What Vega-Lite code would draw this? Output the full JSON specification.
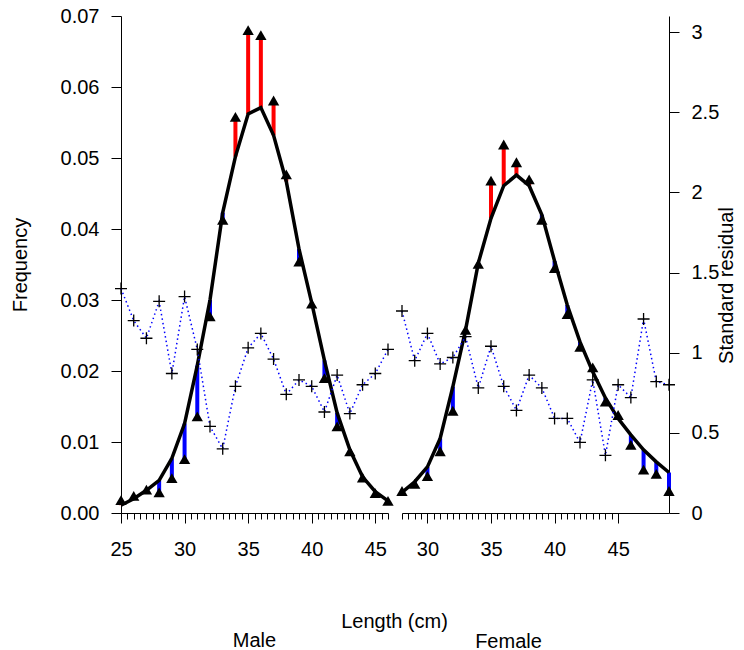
{
  "$schema": "https://vega.github.io/schema/vega-lite/v6.json",
  "padding": {"left": 10, "top": 6, "right": 0, "bottom": 0},
  "background": "white",
  "spacing": 14,
  "bounds": "flush",
  "config": {
    "view": {"stroke": null},
    "font": "Liberation Sans",
    "axis": {
      "domainColor": "black", "tickColor": "black", "labelColor": "black", "titleColor": "black",
      "labelFont": "Liberation Sans", "titleFont": "Liberation Sans",
      "labelFontSize": 20, "titleFontSize": 20, "titleFontWeight": "normal",
      "grid": false, "labelFlush": false, "labelOverlap": false, "domainWidth": 1, "tickWidth": 1
    },
    "title": {"font": "Liberation Sans", "fontSize": 20, "fontWeight": "normal", "color": "black"}
  },
  "datasets": {
    "fish": [
      {"sex": "Male", "length": 25, "obs": 0.0018, "fit": 0.0011, "resid": 1.40},
      {"sex": "Male", "length": 26, "obs": 0.0024, "fit": 0.0020, "resid": 1.20},
      {"sex": "Male", "length": 27, "obs": 0.0033, "fit": 0.0032, "resid": 1.09},
      {"sex": "Male", "length": 28, "obs": 0.0029, "fit": 0.0046, "resid": 1.32},
      {"sex": "Male", "length": 29, "obs": 0.0049, "fit": 0.0077, "resid": 0.87},
      {"sex": "Male", "length": 30, "obs": 0.0076, "fit": 0.0126, "resid": 1.35},
      {"sex": "Male", "length": 31, "obs": 0.0136, "fit": 0.0208, "resid": 1.02},
      {"sex": "Male", "length": 32, "obs": 0.0277, "fit": 0.0300, "resid": 0.54},
      {"sex": "Male", "length": 33, "obs": 0.0413, "fit": 0.0423, "resid": 0.40},
      {"sex": "Male", "length": 34, "obs": 0.0558, "fit": 0.0502, "resid": 0.79},
      {"sex": "Male", "length": 35, "obs": 0.0680, "fit": 0.0562, "resid": 1.03},
      {"sex": "Male", "length": 36, "obs": 0.0673, "fit": 0.0571, "resid": 1.12},
      {"sex": "Male", "length": 37, "obs": 0.0581, "fit": 0.0532, "resid": 0.96},
      {"sex": "Male", "length": 38, "obs": 0.0477, "fit": 0.0467, "resid": 0.74},
      {"sex": "Male", "length": 39, "obs": 0.0354, "fit": 0.0372, "resid": 0.83},
      {"sex": "Male", "length": 40, "obs": 0.0295, "fit": 0.0296, "resid": 0.79},
      {"sex": "Male", "length": 41, "obs": 0.0190, "fit": 0.0215, "resid": 0.63},
      {"sex": "Male", "length": 42, "obs": 0.0122, "fit": 0.0141, "resid": 0.86},
      {"sex": "Male", "length": 43, "obs": 0.0087, "fit": 0.0089, "resid": 0.62},
      {"sex": "Male", "length": 44, "obs": 0.0050, "fit": 0.0051, "resid": 0.80},
      {"sex": "Male", "length": 45, "obs": 0.0028, "fit": 0.0030, "resid": 0.87},
      {"sex": "Male", "length": 46, "obs": 0.0017, "fit": 0.0017, "resid": 1.02},
      {"sex": "Female", "length": 28, "obs": 0.0031, "fit": 0.0029, "resid": 1.26},
      {"sex": "Female", "length": 29, "obs": 0.0041, "fit": 0.0044, "resid": 0.95},
      {"sex": "Female", "length": 30, "obs": 0.0052, "fit": 0.0065, "resid": 1.12},
      {"sex": "Female", "length": 31, "obs": 0.0087, "fit": 0.0105, "resid": 0.93},
      {"sex": "Female", "length": 32, "obs": 0.0144, "fit": 0.0178, "resid": 0.97},
      {"sex": "Female", "length": 33, "obs": 0.0258, "fit": 0.0258, "resid": 1.10},
      {"sex": "Female", "length": 34, "obs": 0.0351, "fit": 0.0352, "resid": 0.78},
      {"sex": "Female", "length": 35, "obs": 0.0468, "fit": 0.0415, "resid": 1.04},
      {"sex": "Female", "length": 36, "obs": 0.0519, "fit": 0.0461, "resid": 0.79},
      {"sex": "Female", "length": 37, "obs": 0.0494, "fit": 0.0476, "resid": 0.64},
      {"sex": "Female", "length": 38, "obs": 0.0470, "fit": 0.0461, "resid": 0.86},
      {"sex": "Female", "length": 39, "obs": 0.0413, "fit": 0.0420, "resid": 0.78},
      {"sex": "Female", "length": 40, "obs": 0.0345, "fit": 0.0355, "resid": 0.59},
      {"sex": "Female", "length": 41, "obs": 0.0280, "fit": 0.0293, "resid": 0.59},
      {"sex": "Female", "length": 42, "obs": 0.0234, "fit": 0.0241, "resid": 0.44},
      {"sex": "Female", "length": 43, "obs": 0.0205, "fit": 0.0199, "resid": 0.83},
      {"sex": "Female", "length": 44, "obs": 0.0157, "fit": 0.0162, "resid": 0.36},
      {"sex": "Female", "length": 45, "obs": 0.0138, "fit": 0.0133, "resid": 0.80},
      {"sex": "Female", "length": 46, "obs": 0.0096, "fit": 0.0110, "resid": 0.72},
      {"sex": "Female", "length": 47, "obs": 0.0061, "fit": 0.0089, "resid": 1.21},
      {"sex": "Female", "length": 48, "obs": 0.0055, "fit": 0.0072, "resid": 0.82},
      {"sex": "Female", "length": 49, "obs": 0.0031, "fit": 0.0057, "resid": 0.80}
    ]
  },
  "hconcat": [
    {
      "width": 267,
      "height": 497,
      "data": {"name": "fish"},
      "transform": [{"filter": "datum.sex === 'Male'"}],
      "title": {"text": "Male", "orient": "bottom", "frame": "group", "anchor": "middle", "offset": 0},
      "layer": [
        {
          "encoding": {
            "x": {
              "field": "length", "type": "quantitative",
              "scale": {"domain": [25, 46], "nice": false, "zero": false},
              "axis": {"orient": "bottom",
                "values": [25,25.5,26,26.5,27,27.5,28,28.5,29,29.5,30,30.5,31,31.5,32,32.5,33,33.5,34,34.5,35,35.5,36,36.5,37,37.5,38,38.5,39,39.5,40,40.5,41,41.5,42,42.5,43,43.5,44,44.5,45,45.5,46],
                "labelExpr": "datum.value % 5 === 0 ? format(datum.value, 'd') : ''",
                "tickSize": 6, "labelPadding": 20,
                "title": "Length (cm)", "titleX": 273, "titleY": 98}
            }
          },
          "layer": [
            {
              "mark": {"type": "rule", "strokeWidth": 4},
              "encoding": {
                "y": {"field": "fit", "type": "quantitative", "title": "Frequency", "scale": {"domain": [0, 0.07], "nice": false},
                  "axis": {"values": [0,0.01,0.02,0.03,0.04,0.05,0.06,0.07], "format": ".2f", "tickSize": 10, "labelPadding": 12, "titlePadding": 30}},
                "y2": {"field": "obs"},
                "color": {"condition": {"test": "datum.obs > datum.fit", "value": "#FF0000"}, "value": "#0000FF"}
              }
            },
            {
              "mark": {"type": "line", "color": "black", "strokeWidth": 3.5},
              "encoding": {"y": {"field": "fit", "type": "quantitative", "title": "Frequency"}}
            },
            {
              "mark": {"type": "point", "shape": "triangle-up", "size": 128, "filled": true, "color": "black", "opacity": 1},
              "encoding": {"y": {"field": "obs", "type": "quantitative", "title": "Frequency"}}
            }
          ]
        },
        {
          "encoding": {
            "x": {
              "field": "length", "type": "quantitative",
              "scale": {"domain": [25, 46], "nice": false, "zero": false},
              "axis": {"orient": "bottom", "values": [25, 30, 35, 40, 45], "tickSize": 10, "labels": false, "domain": false, "title": null}
            }
          },
          "layer": [
            {
              "mark": {"type": "line", "color": "#0000FF", "strokeWidth": 1.5, "strokeDash": [1.5, 3]},
              "encoding": {"y": {"field": "resid", "type": "quantitative", "scale": {"domain": [0, 3.1], "nice": false}, "axis": null}}
            },
            {
              "mark": {"type": "point", "shape": "M-1,0H1M0,-1V1", "size": 144, "filled": false, "color": "black", "strokeWidth": 1.3, "opacity": 1},
              "encoding": {"y": {"field": "resid", "type": "quantitative", "axis": null}}
            }
          ]
        }
      ],
      "resolve": {"scale": {"y": "independent"}, "axis": {"x": "independent", "y": "independent"}}
    },
    {
      "width": 267,
      "height": 497,
      "data": {"name": "fish"},
      "transform": [{"filter": "datum.sex === 'Female'"}],
      "layer": [
        {
          "encoding": {
            "x": {
              "field": "length", "type": "quantitative",
              "scale": {"domain": [28, 49], "nice": false, "zero": false},
              "axis": {"orient": "bottom",
                "values": [28,28.5,29,29.5,30,30.5,31,31.5,32,32.5,33,33.5,34,34.5,35,35.5,36,36.5,37,37.5,38,38.5,39,39.5,40,40.5,41,41.5,42,42.5,43,43.5,44,44.5,45],
                "labelExpr": "datum.value % 5 === 0 ? format(datum.value, 'd') : ''",
                "tickSize": 6, "labelPadding": 20,
                "title": "Female", "titleX": 106, "titleY": 118}
            }
          },
          "layer": [
            {
              "mark": {"type": "rule", "strokeWidth": 4},
              "encoding": {
                "y": {"field": "fit", "type": "quantitative", "scale": {"domain": [0, 0.07], "nice": false}, "axis": null},
                "y2": {"field": "obs"},
                "color": {"condition": {"test": "datum.obs > datum.fit", "value": "#FF0000"}, "value": "#0000FF"}
              }
            },
            {
              "mark": {"type": "line", "color": "black", "strokeWidth": 3.5},
              "encoding": {"y": {"field": "fit", "type": "quantitative", "axis": null}}
            },
            {
              "mark": {"type": "point", "shape": "triangle-up", "size": 128, "filled": true, "color": "black", "opacity": 1},
              "encoding": {"y": {"field": "obs", "type": "quantitative", "axis": null}}
            }
          ]
        },
        {
          "encoding": {
            "x": {
              "field": "length", "type": "quantitative",
              "scale": {"domain": [28, 49], "nice": false, "zero": false},
              "axis": {"orient": "bottom", "values": [30, 35, 40, 45], "tickSize": 10, "labels": false, "domain": false, "title": null}
            }
          },
          "layer": [
            {
              "mark": {"type": "line", "color": "#0000FF", "strokeWidth": 1.5, "strokeDash": [1.5, 3]},
              "encoding": {"y": {"field": "resid", "type": "quantitative", "title": "Standard residual", "scale": {"domain": [0, 3.1], "nice": false},
                "axis": {"orient": "right", "values": [0,0.5,1,1.5,2,2.5,3], "format": "~g", "tickSize": 10, "labelPadding": 12, "titleAngle": -90, "titlePadding": 18, "titleY": 269}}}
            },
            {
              "mark": {"type": "point", "shape": "M-1,0H1M0,-1V1", "size": 144, "filled": false, "color": "black", "strokeWidth": 1.3, "opacity": 1},
              "encoding": {"y": {"field": "resid", "type": "quantitative", "title": "Standard residual"}}
            }
          ]
        }
      ],
      "resolve": {"scale": {"y": "independent"}, "axis": {"x": "independent", "y": "independent"}}
    }
  ]
}
